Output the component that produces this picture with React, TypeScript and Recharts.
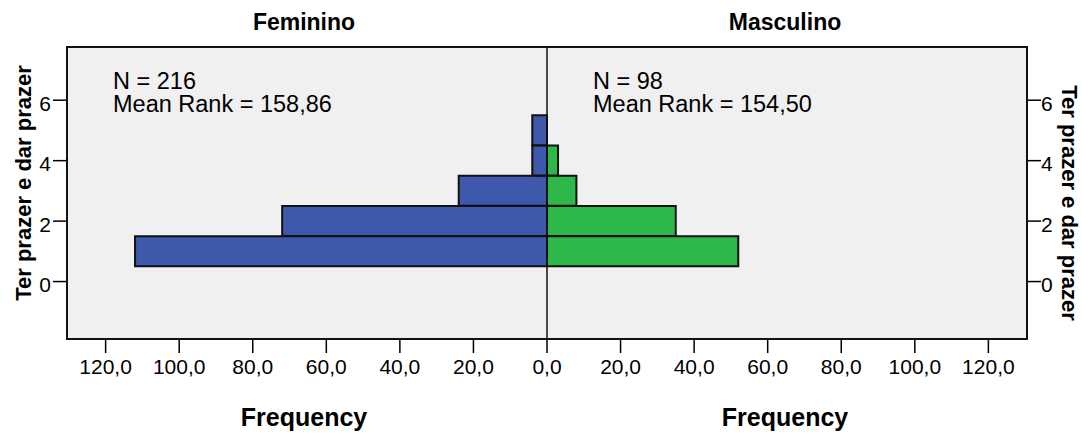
import { BarChart, Bar, XAxis, YAxis } from 'recharts'

// Ter prazer e dar prazer – frequência por sexo (pirâmide SPSS)
const scores = [1, 2, 3, 4, 5]
const feminino = [112, 72, 24, 4, 4]
const masculino = [52, 35, 8, 3, 0]
const freqTicksLeft = [0, 20, 40, 60, 80, 100, 120]
const freqTicksRight = [20, 40, 60, 80, 100, 120]
const scoreTicks = [0, 2, 4, 6]
const panelTitles = ['Feminino', 'Masculino']
const panelN = [216, 98]
const panelMeanRank = ['158,86', '154,50']
const yTitle = 'Ter prazer e dar prazer'
const xTitle = 'Frequency'

const W = 1082
const H = 440
const LEFT = 67
const MID = 547
const RIGHT = 1027
const TOP = 47
const BOTTOM = 339
const FONT = '"Liberation Sans", Arial, sans-serif'

const femData = scores.map((s, i) => ({ score: s, value: feminino[i] }))
const mascData = scores.map((s, i) => ({ score: s, value: masculino[i] }))

const fmt = (v: number) => v.toFixed(1).replace('.', ',')

const tickStyle = { fill: '#000', fontSize: 21, fontFamily: FONT }
const layer: React.CSSProperties = { position: 'absolute', left: 0, top: 0 }

export default function App() {
  const panelLeft = [LEFT, MID]
  const panelCenter = [(LEFT + MID) / 2 - 3, (MID + RIGHT) / 2 - 2]
  return (
    <div style={{ position: 'absolute', left: 0, top: 0, width: W, height: H, background: '#fff' }}>
      <svg style={layer} width={W} height={H}>
        <rect x={LEFT} y={TOP} width={RIGHT - LEFT} height={BOTTOM - TOP} fill="#f0f0f0" />
      </svg>

      <div style={layer}>
        <BarChart
          width={W}
          height={H}
          data={femData}
          layout="vertical"
          margin={{ top: TOP, bottom: H - BOTTOM - 60, left: LEFT - 60, right: W - MID }}
        >
          <XAxis
            type="number"
            reversed
            domain={[0, 130.5]}
            ticks={freqTicksLeft}
            tickFormatter={fmt}
            axisLine={false}
            tickLine={{ stroke: '#000', strokeWidth: 1.5 }}
            tickSize={14}
            tickMargin={6}
            height={60}
            tick={tickStyle}
            interval={0}
          />
          <YAxis
            type="number"
            dataKey="score"
            reversed
            domain={[-1.9, 7.76]}
            ticks={scoreTicks}
            axisLine={false}
            tickLine={{ stroke: '#000', strokeWidth: 1.5 }}
            tickSize={14}
            tickMargin={2}
            width={60}
            tick={{ ...tickStyle, dy: 3 }}
            interval={0}
          />
          <Bar dataKey="value" fill="#3e58ac" stroke="#111" strokeWidth={2} barSize={30} isAnimationActive={false} />
        </BarChart>
      </div>

      <div style={layer}>
        <BarChart
          width={W}
          height={H}
          data={mascData}
          layout="vertical"
          margin={{ top: TOP, bottom: H - BOTTOM - 60, left: MID, right: W - RIGHT - 55 }}
        >
          <XAxis
            type="number"
            domain={[0, 130.5]}
            ticks={freqTicksRight}
            tickFormatter={fmt}
            axisLine={false}
            tickLine={{ stroke: '#000', strokeWidth: 1.5 }}
            tickSize={14}
            tickMargin={6}
            height={60}
            tick={tickStyle}
            interval={0}
          />
          <YAxis
            type="number"
            dataKey="score"
            orientation="right"
            reversed
            domain={[-1.9, 7.76]}
            ticks={scoreTicks}
            axisLine={false}
            tickLine={{ stroke: '#000', strokeWidth: 1.5 }}
            tickSize={14}
            tickMargin={0}
            width={55}
            tick={{ ...tickStyle, dy: 3 }}
            interval={0}
          />
          <Bar dataKey="value" fill="#2eb84a" stroke="#111" strokeWidth={2} barSize={30} isAnimationActive={false} />
        </BarChart>
      </div>

      <svg style={{ ...layer, pointerEvents: 'none' }} width={W} height={H} fontFamily={FONT}>
        <rect x={LEFT} y={TOP} width={RIGHT - LEFT} height={BOTTOM - TOP} fill="none" stroke="#111" strokeWidth={2} />
        <line x1={MID} x2={MID} y1={TOP} y2={BOTTOM} stroke="#111" strokeWidth={1.5} />
        {panelTitles.map((t, i) => (
          <g key={t}>
            <text x={panelCenter[i]} y={30} textAnchor="middle" fontSize={23} fontWeight="bold">{t}</text>
            <text x={panelCenter[i]} y={426} textAnchor="middle" fontSize={25} fontWeight="bold">{xTitle}</text>
            <text x={panelLeft[i] + 46} y={88.5} fontSize={23.5}>{`N = ${panelN[i]}`}</text>
            <text x={panelLeft[i] + 46} y={111.7} fontSize={23.5}>{`Mean Rank = ${panelMeanRank[i]}`}</text>
          </g>
        ))}
        <text transform="translate(31,183) rotate(-90)" textAnchor="middle" fontSize={22} fontWeight="bold">{yTitle}</text>
        <text transform="translate(1062,203) rotate(90)" textAnchor="middle" fontSize={22} fontWeight="bold">{yTitle}</text>
      </svg>
    </div>
  )
}
